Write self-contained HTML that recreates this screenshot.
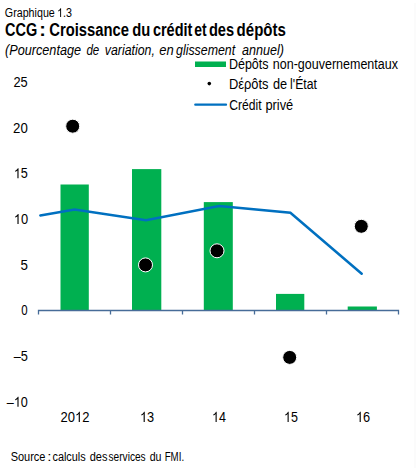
<!DOCTYPE html>
<html><head><meta charset="utf-8">
<style>
html,body{margin:0;padding:0;background:#fff;width:417px;height:468px;overflow:hidden}
svg{display:block}
text{font-family:"Liberation Sans",sans-serif;fill:#000}
</style></head><body>
<svg width="417" height="468" viewBox="0 0 417 468">
<rect width="417" height="468" fill="#fff"/>
<rect x="414.5" y="3" width="1" height="465" fill="#f8f8f8"/>
<!-- legend symbols -->
<rect x="195" y="61.5" width="31" height="5.5" fill="#00B050"/>
<circle cx="209.3" cy="83.6" r="1.8" fill="#000"/>
<line x1="195.3" y1="104.7" x2="226" y2="104.7" stroke="#0070C0" stroke-width="2.3" stroke-linecap="round"/>
<!-- bars -->
<g fill="#00B050">
<rect x="60.5" y="184.5" width="28.3" height="126"/>
<rect x="132" y="169.1" width="29.3" height="141.4"/>
<rect x="203.8" y="202.1" width="29" height="108.4"/>
<rect x="276" y="293.9" width="28.3" height="16.6"/>
<rect x="347.7" y="306.5" width="29.2" height="4"/>
</g>
<!-- axis -->
<path d="M38.5 314.6 V310.5 H398.5 V314.6 M110.5 310.5 V314.6 M182.5 310.5 V314.6 M254.5 310.5 V314.6 M326.5 310.5 V314.6" fill="none" stroke="#476C98" stroke-width="1.3"/>
<!-- line -->
<polyline points="40.3,215.4 74.6,209.5 146,220.2 219.1,206.1 290.4,212.8 361.7,273.8" fill="none" stroke="#0070C0" stroke-width="2.5" stroke-linejoin="miter" stroke-linecap="round"/>
<!-- dots -->
<g fill="#000" stroke="#fff" stroke-width="1">
<circle cx="72.7" cy="126.2" r="7"/>
<circle cx="145.5" cy="264.9" r="7"/>
<circle cx="217" cy="250.8" r="7"/>
<circle cx="289.7" cy="357.4" r="7"/>
<circle cx="361.3" cy="226.3" r="7"/>
</g>
<text x="4.87" y="16.9" font-size="12" font-weight="normal" font-style="normal" textLength="49.91" lengthAdjust="spacingAndGlyphs">Graphique</text>
<text x="57.09" y="16.9" font-size="12" font-weight="normal" font-style="normal" textLength="14.93" lengthAdjust="spacingAndGlyphs"> .3</text><path transform="translate(57.095,16.9) scale(0.00524,-0.00586)" d="M763 0L583 0L583 1147Q518 1085 412 1023Q306 961 222 930L222 1104Q373 1175 486 1276Q599 1377 646 1472L763 1472Z"/>
<text x="5.00" y="35.8" font-size="17.5" font-weight="bold" font-style="normal" textLength="32.22" lengthAdjust="spacingAndGlyphs">CCG</text>
<text x="39.23" y="35.8" font-size="17.5" font-weight="bold" font-style="normal" textLength="6.61" lengthAdjust="spacingAndGlyphs">:</text>
<text x="49.29" y="35.8" font-size="17.5" font-weight="bold" font-style="normal" textLength="79.69" lengthAdjust="spacingAndGlyphs">Croissance</text>
<text x="132.19" y="35.8" font-size="17.5" font-weight="bold" font-style="normal" textLength="18.02" lengthAdjust="spacingAndGlyphs">du</text>
<text x="152.90" y="35.8" font-size="17.5" font-weight="bold" font-style="normal" textLength="39.46" lengthAdjust="spacingAndGlyphs">crédit</text>
<text x="194.33" y="35.8" font-size="17.5" font-weight="bold" font-style="normal" textLength="12.35" lengthAdjust="spacingAndGlyphs">et</text>
<text x="208.90" y="35.8" font-size="17.5" font-weight="bold" font-style="normal" textLength="25.20" lengthAdjust="spacingAndGlyphs">des</text>
<text x="236.58" y="35.8" font-size="17.5" font-weight="bold" font-style="normal" textLength="49.36" lengthAdjust="spacingAndGlyphs">dépôts</text>
<text x="4.97" y="55" font-size="14.5" font-weight="normal" font-style="italic" textLength="76.14" lengthAdjust="spacingAndGlyphs">(Pourcentage</text>
<text x="86.39" y="55" font-size="14.5" font-weight="normal" font-style="italic" textLength="12.89" lengthAdjust="spacingAndGlyphs">de</text>
<text x="104.80" y="55" font-size="14.5" font-weight="normal" font-style="italic" textLength="50.02" lengthAdjust="spacingAndGlyphs">variation,</text>
<text x="159.23" y="55" font-size="14.5" font-weight="normal" font-style="italic" textLength="14.49" lengthAdjust="spacingAndGlyphs">en</text>
<text x="176.00" y="55" font-size="14.5" font-weight="normal" font-style="italic" textLength="59.17" lengthAdjust="spacingAndGlyphs">glissement</text>
<text x="242.03" y="55" font-size="14.5" font-weight="normal" font-style="italic" textLength="41.89" lengthAdjust="spacingAndGlyphs">annuel)</text>
<text x="228.92" y="68.6" font-size="14" font-weight="normal" font-style="normal" textLength="39.58" lengthAdjust="spacingAndGlyphs">Dépôts</text>
<text x="272.80" y="68.6" font-size="14" font-weight="normal" font-style="normal" textLength="125.18" lengthAdjust="spacingAndGlyphs">non-gouvernementaux</text>
<text x="228.89" y="89" font-size="14" font-weight="normal" font-style="normal" textLength="39.57" lengthAdjust="spacingAndGlyphs">Dέρôts</text>
<text x="273.05" y="89" font-size="14" font-weight="normal" font-style="normal" textLength="14.16" lengthAdjust="spacingAndGlyphs">de</text>
<text x="290.11" y="89" font-size="14" font-weight="normal" font-style="normal" textLength="26.86" lengthAdjust="spacingAndGlyphs">l&#39;État</text>
<text x="229.29" y="109.5" font-size="14" font-weight="normal" font-style="normal" textLength="32.33" lengthAdjust="spacingAndGlyphs">Crédit</text>
<text x="265.38" y="109.5" font-size="14" font-weight="normal" font-style="normal" textLength="27.82" lengthAdjust="spacingAndGlyphs">privé</text>
<text x="13.46" y="86.9" font-size="14" font-weight="normal" font-style="normal" textLength="14.27" lengthAdjust="spacingAndGlyphs">25</text>
<text x="13.04" y="132.6" font-size="14" font-weight="normal" font-style="normal" textLength="14.70" lengthAdjust="spacingAndGlyphs">20</text>
<text x="13.80" y="178.3" font-size="14" font-weight="normal" font-style="normal" textLength="14.12" lengthAdjust="spacingAndGlyphs"> 5</text><path transform="translate(13.803,178.3) scale(0.00620,-0.00684)" d="M763 0L583 0L583 1147Q518 1085 412 1023Q306 961 222 930L222 1104Q373 1175 486 1276Q599 1377 646 1472L763 1472Z"/>
<text x="13.79" y="224.0" font-size="14" font-weight="normal" font-style="normal" textLength="14.34" lengthAdjust="spacingAndGlyphs"> 0</text><path transform="translate(13.787,224.0) scale(0.00629,-0.00684)" d="M763 0L583 0L583 1147Q518 1085 412 1023Q306 961 222 930L222 1104Q373 1175 486 1276Q599 1377 646 1472L763 1472Z"/>
<text x="20.53" y="269.7" font-size="14" font-weight="normal" font-style="normal" textLength="7.43" lengthAdjust="spacingAndGlyphs">5</text>
<text x="21.29" y="315.4" font-size="14" font-weight="normal" font-style="normal" textLength="6.39" lengthAdjust="spacingAndGlyphs">0</text>
<text x="13.70" y="361.1" font-size="14" font-weight="normal" font-style="normal" textLength="14.22" lengthAdjust="spacingAndGlyphs">–5</text>
<text x="6.80" y="406.8" font-size="14" font-weight="normal" font-style="normal" textLength="21.11" lengthAdjust="spacingAndGlyphs">– 0</text><path transform="translate(13.835,406.8) scale(0.00618,-0.00684)" d="M763 0L583 0L583 1147Q518 1085 412 1023Q306 961 222 930L222 1104Q373 1175 486 1276Q599 1377 646 1472L763 1472Z"/>
<text x="60.55" y="421.9" font-size="14" font-weight="normal" font-style="normal" textLength="28.94" lengthAdjust="spacingAndGlyphs">20 2</text><path transform="translate(75.021,421.9) scale(0.00635,-0.00684)" d="M763 0L583 0L583 1147Q518 1085 412 1023Q306 961 222 930L222 1104Q373 1175 486 1276Q599 1377 646 1472L763 1472Z"/>
<text x="140.00" y="421.9" font-size="14" font-weight="normal" font-style="normal" textLength="14.22" lengthAdjust="spacingAndGlyphs"> 3</text><path transform="translate(139.996,421.9) scale(0.00624,-0.00684)" d="M763 0L583 0L583 1147Q518 1085 412 1023Q306 961 222 930L222 1104Q373 1175 486 1276Q599 1377 646 1472L763 1472Z"/>
<text x="212.02" y="421.9" font-size="14" font-weight="normal" font-style="normal" textLength="13.92" lengthAdjust="spacingAndGlyphs"> 4</text><path transform="translate(212.017,421.9) scale(0.00611,-0.00684)" d="M763 0L583 0L583 1147Q518 1085 412 1023Q306 961 222 930L222 1104Q373 1175 486 1276Q599 1377 646 1472L763 1472Z"/>
<text x="284.02" y="421.9" font-size="14" font-weight="normal" font-style="normal" textLength="13.89" lengthAdjust="spacingAndGlyphs"> 5</text><path transform="translate(284.019,421.9) scale(0.00610,-0.00684)" d="M763 0L583 0L583 1147Q518 1085 412 1023Q306 961 222 930L222 1104Q373 1175 486 1276Q599 1377 646 1472L763 1472Z"/>
<text x="356.00" y="421.9" font-size="14" font-weight="normal" font-style="normal" textLength="14.22" lengthAdjust="spacingAndGlyphs"> 6</text><path transform="translate(355.996,421.9) scale(0.00624,-0.00684)" d="M763 0L583 0L583 1147Q518 1085 412 1023Q306 961 222 930L222 1104Q373 1175 486 1276Q599 1377 646 1472L763 1472Z"/>
<text x="10.65" y="460.7" font-size="12" font-weight="normal" font-style="normal" textLength="34.83" lengthAdjust="spacingAndGlyphs">Source</text>
<text x="47.20" y="460.7" font-size="12" font-weight="normal" font-style="normal" textLength="4.24" lengthAdjust="spacingAndGlyphs">:</text>
<text x="52.45" y="460.7" font-size="12" font-weight="normal" font-style="normal" textLength="33.29" lengthAdjust="spacingAndGlyphs">calculs</text>
<text x="89.74" y="460.7" font-size="12" font-weight="normal" font-style="normal" textLength="17.77" lengthAdjust="spacingAndGlyphs">des</text>
<text x="108.56" y="460.7" font-size="12" font-weight="normal" font-style="normal" textLength="37.08" lengthAdjust="spacingAndGlyphs">services</text>
<text x="149.66" y="460.7" font-size="12" font-weight="normal" font-style="normal" textLength="11.79" lengthAdjust="spacingAndGlyphs">du</text>
<text x="164.69" y="460.7" font-size="12" font-weight="normal" font-style="normal" textLength="19.39" lengthAdjust="spacingAndGlyphs">FMI.</text>
</svg>
</body></html>
